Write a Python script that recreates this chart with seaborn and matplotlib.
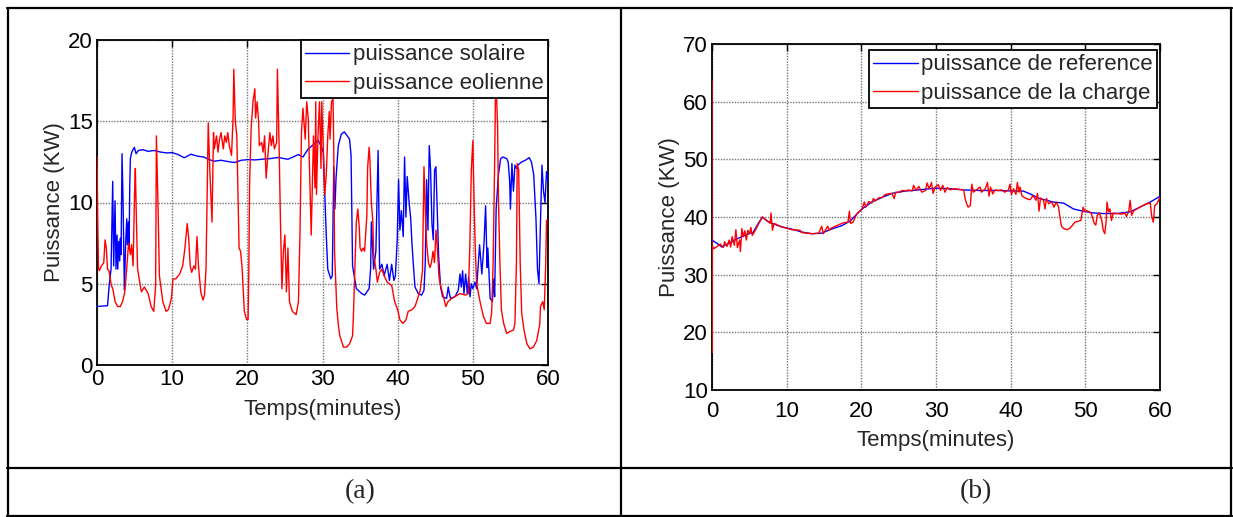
import matplotlib
matplotlib.use("Agg")
import matplotlib.pyplot as plt
from matplotlib.lines import Line2D
import seaborn as sns

# ---- data (a): puissance solaire / eolienne ----
solar_t = [0, 1.4, 1.64, 1.87, 2.09, 2.22, 2.31, 2.4, 2.53, 2.67, 2.76, 2.89, 3.02, 3.11, 3.2,
           3.33, 3.47, 3.64, 3.82, 3.96, 4.04, 4.18, 4.27, 4.36, 4.44, 4.62, 4.97, 5.2, 5.5, 6.1,
           6.8, 7.6, 8.5, 9.3, 10.0, 10.8, 11.6, 12.5, 13.4, 14.2, 14.8, 15.6, 16.5, 17.4, 18.3,
           19.2, 20.1, 21.0, 21.9, 23.0, 24.1, 25.4, 26.8, 27.4, 28.1, 28.8, 29.4, 29.8, 30.1,
           30.3, 30.5, 30.7, 31.1, 31.3, 31.5, 31.65, 31.8, 32.1, 32.5, 32.9, 33.6, 33.8, 34.0,
           34.5, 35.2, 35.6, 36.2, 36.4, 36.5, 36.8, 37.1, 37.4, 37.6, 37.9, 38.2, 38.6, 38.9,
           39.2, 39.5, 39.7, 39.94, 40.12, 40.3, 40.5, 40.74, 40.92, 41.1, 41.27, 41.54, 41.72,
           41.9, 42.07, 42.3, 42.74, 43.18, 43.5, 43.67, 43.85, 44.03, 44.2, 44.38, 44.56, 44.74,
           44.91, 45.09, 45.27, 45.45, 45.71, 45.98, 46.51, 46.73, 46.87, 47.04, 47.62, 48.06,
           48.29, 48.46, 48.64, 48.82, 49.04, 49.26, 49.44, 49.62, 49.8, 50.0, 50.3, 50.5, 50.9,
           51.2, 51.5, 51.7, 51.9, 52.0, 52.3, 52.6, 52.8, 52.9, 53.1, 53.4, 53.7, 54.0, 54.5,
           54.7, 54.9, 55.0, 55.2, 55.4, 55.6, 55.8, 56.0, 56.5, 57.0, 57.5, 57.8, 58.1, 58.4,
           58.6, 58.8, 59.0, 59.2, 59.4, 59.6, 59.8, 60.0]
solar_p = [3.6, 3.65, 5.0, 5.9, 11.3, 6.1, 8.0, 10.1, 5.9, 8.0, 5.9, 7.6, 6.4, 7.8, 6.8,
           13.0, 10.0, 4.6, 7.6, 9.0, 7.4, 8.8, 7.2, 11.1, 12.7, 13.1, 13.4, 13.0, 13.2, 13.25,
           13.15, 13.2, 13.1, 13.05, 13.07, 12.95, 12.75, 12.97, 12.85, 12.8, 12.66, 12.54, 12.6, 12.52, 12.46,
           12.6, 12.64, 12.62, 12.66, 12.7, 12.77, 12.66, 12.95, 12.8, 13.3, 13.56, 13.83, 13.5, 13.1,
           10.6, 8.0, 5.9, 5.3, 5.5, 12.2, 9.6, 11.5, 13.5, 14.2, 14.35, 13.9, 12.9, 6.1,
           4.7, 4.4, 4.3, 4.7, 5.9, 8.8, 5.9, 7.0, 13.2, 5.9, 6.2, 5.5, 6.2, 5.2,
           6.2, 5.2, 5.5, 7.7, 11.4, 8.3, 9.5, 7.9, 12.8, 9.1, 11.6, 9.9, 9.1,
           7.5, 6.3, 4.8, 4.4, 4.3, 4.6, 6.3, 11.4, 8.3, 13.5, 12.0, 8.7, 7.7,
           12.0, 12.2, 9.5, 6.7, 4.8, 4.2, 4.1, 4.8, 4.4, 4.1, 4.2, 4.6,
           5.6, 4.8, 5.8, 4.4, 5.6, 4.4, 5.4, 4.2, 5.0, 4.7, 5.1, 4.7, 7.4,
           5.6, 7.6, 9.8, 6.0, 7.2, 4.1, 3.9, 5.3, 4.2, 9.6, 11.7, 12.7, 12.8, 12.7,
           12.5, 11.3, 9.6, 12.4, 10.7, 12.3, 12.1, 12.3, 12.5, 12.6, 12.76, 12.5, 11.7, 9.0,
           5.9, 5.0, 8.8, 12.3, 10.7, 10.0, 11.9, 11.3]

wind_t = [0, 0.1, 0.2, 0.3, 0.6, 0.9, 1.07, 1.24, 1.4, 1.6, 1.9, 2.1, 2.4, 2.75, 3.1, 3.4, 3.7,
          3.95, 4.2, 4.45, 4.6, 4.8, 5.0, 5.1, 5.25, 5.4, 5.9, 6.3, 6.8, 7.2, 7.55, 7.8, 7.9, 8.1,
          8.3, 8.75, 9.2, 9.5, 9.9, 10.1, 10.5, 11.0, 11.4, 11.7, 12.0, 12.2, 12.4, 12.6, 12.9,
          13.1, 13.3, 13.5, 13.8, 14.1, 14.3, 14.5, 14.8, 15.0, 15.3, 15.5, 15.6, 15.9, 16.1,
          16.3, 16.5, 16.8, 17.0, 17.2, 17.4, 17.6, 17.9, 18.1, 18.2, 18.4, 18.6, 18.8, 18.9,
          19.1, 19.3, 19.6, 19.9, 20.1, 20.2, 20.3, 20.5, 20.75, 21.0, 21.1, 21.3, 21.5, 21.6,
          21.9, 22.1, 22.3, 22.5, 22.8, 23.0, 23.2, 23.4, 23.6, 23.9, 24.0, 24.2, 24.4, 24.6,
          24.8, 25.0, 25.2, 25.4, 25.6, 26.0, 26.5, 26.8, 27.0, 27.2, 27.4, 27.7, 27.9, 28.1,
          28.3, 28.5, 28.8, 29.0, 29.1, 29.2, 29.4, 29.6, 29.8, 29.9, 30.1, 30.3, 30.5, 30.7,
          30.9, 31.0, 31.2, 31.4, 31.5, 31.6, 31.9, 32.1, 32.3, 32.8, 33.2, 33.6, 34.0, 34.1,
          34.3, 34.5, 34.7, 34.9, 35.0, 35.2, 35.4, 35.6, 35.9, 36.0, 36.2, 36.3, 36.5, 36.7,
          36.8, 37.1, 37.3, 37.6, 37.9, 38.2, 38.6, 38.9, 39.2, 39.6, 40.0, 40.3, 40.7, 41.1,
          41.4, 41.9, 42.3, 42.6, 43.0, 43.3, 43.5, 43.7, 43.85, 44.1, 44.3, 44.5, 44.7, 44.9,
          45.1, 45.3, 45.5, 45.7, 46.1, 46.4, 46.7, 47.2, 47.6, 48.3, 49.0, 49.4, 49.6, 49.8,
          50.0, 50.1, 50.3, 50.5, 51.0, 51.4, 51.8, 52.3, 52.5, 52.7, 52.9, 53.0, 53.1, 53.2,
          53.3, 53.4, 53.6, 53.8, 54.1, 54.5, 54.9, 55.4, 55.6, 55.8, 55.9, 56.1, 56.3, 56.5,
          56.8, 57.2, 57.6, 58.05, 58.5, 58.9, 59.0, 59.3, 59.5, 59.7, 59.8, 60.0]
wind_p = [12.8, 8.7, 6.0, 5.8, 6.1, 6.3, 7.7, 7.2, 5.9, 5.8, 4.9, 4.7, 3.9, 3.6, 3.6, 3.9, 4.5,
          5.9, 7.5, 6.8, 7.4, 6.1, 10.6, 12.1, 8.8, 5.9, 4.5, 4.8, 4.4, 3.6, 3.3, 4.9, 14.1, 10.2,
          5.5, 3.9, 3.3, 3.4, 4.1, 5.3, 5.3, 5.6, 6.1, 7.2, 8.7, 7.8, 6.1, 5.7, 6.1,
          5.9, 7.9, 6.1, 4.5, 4.0, 4.3, 5.9, 14.9, 12.1, 8.8, 14.3, 13.3, 14.1, 13.1,
          13.9, 14.3, 13.3, 14.1, 13.7, 14.3, 13.5, 12.9, 15.2, 18.2, 15.0, 14.1, 9.6, 7.2,
          7.0, 6.0, 3.3, 2.8, 2.8, 5.9, 11.1, 14.5, 16.2, 17.0, 15.2, 16.2, 15.0, 13.5,
          13.7, 13.1, 14.1, 11.5, 13.3, 14.3, 13.5, 14.1, 13.3, 13.7, 18.2, 14.1, 9.0, 4.7,
          7.0, 8.0, 4.5, 7.2, 3.9, 3.3, 3.1, 3.9, 8.0, 14.3, 15.8, 13.9, 16.2, 15.2,
          11.7, 8.0, 14.1, 10.9, 16.2, 10.5, 14.1, 16.2, 12.1, 16.2, 13.3, 10.5, 11.7, 14.1,
          15.6, 13.9, 16.2, 16.4, 13.1, 7.0, 3.5, 2.5, 1.8, 1.1, 1.1, 1.3, 1.8, 2.9,
          5.9, 8.8, 9.6, 8.4, 7.2, 7.0, 7.2, 7.0, 9.2, 12.1, 13.4, 12.7, 10.0, 8.8,
          6.8, 5.9, 5.1, 5.7, 5.9, 5.5, 5.1, 5.0, 4.9, 3.9, 3.4, 2.77, 2.56, 2.77,
          3.3, 3.4, 3.6, 4.0, 4.6, 5.8, 12.2, 9.1, 7.5, 6.3, 6.0, 6.3, 7.0, 6.3,
          8.3, 7.0, 5.4, 4.9, 4.2, 3.6, 3.9, 4.1, 4.2, 4.4, 4.3, 4.4, 7.3, 12.0,
          13.8, 11.4, 7.5, 5.0, 3.8, 3.0, 2.56, 2.56, 3.2, 6.3, 12.4, 16.3, 17.0, 16.0,
          14.5, 10.4, 6.3, 3.4, 2.56, 1.95, 2.05, 2.15, 2.56, 6.3, 12.4, 12.0, 6.3, 3.2,
          2.15, 1.3, 1.0, 1.1, 1.5, 2.5, 3.6, 3.9, 3.4, 6.3, 8.9, 8.9]

# ---- data (b): puissance de reference / de la charge ----
ref_t = [0, 0.6, 1.3, 2.2, 3.5, 4.9, 5.5, 6.2, 6.75, 7.3, 8.0, 9.3, 10.7, 12.0, 13.4, 14.7,
         16.0, 17.4, 18.5, 19.4, 20.1, 21.4, 22.8, 24.1, 25.9, 27.7, 29.9, 31.9, 33.7, 35.9,
         38.1, 40.4, 41.7, 42.6, 43.9, 45.7, 47.1, 48.4, 49.7, 51.1, 52.4, 54.2, 56.0, 57.3,
         58.7, 60.0]
ref_p = [36.0, 35.5, 34.8, 35.4, 36.3, 37.1, 37.3, 38.9, 40.0, 39.4, 38.9, 38.3, 37.9, 37.4,
         37.1, 37.2, 37.9, 38.5, 39.3, 40.5, 41.4, 42.6, 43.4, 44.1, 44.5, 44.7, 45.0, 44.9,
         44.7, 44.6, 44.6, 44.5, 44.5, 44.0, 43.2, 42.6, 42.4, 41.4, 41.0, 40.7, 40.6, 40.6,
         40.9, 41.7, 42.6, 43.6]

load_t = [0, 0.02, 0.05, 0.2, 0.6, 1.1, 1.5, 1.7, 2.0, 2.3, 2.5, 2.7, 3.0, 3.2, 3.4, 3.7, 3.8,
          4.0, 4.2, 4.4, 4.6, 4.8, 5.05, 5.2, 5.4, 5.8, 6.2, 6.75, 7.3, 7.8, 7.9, 8.1, 8.3, 9.3,
          10.7, 11.8, 12.0, 13.4, 14.3, 14.7, 14.9, 15.5, 15.7, 16.0, 16.9, 17.6, 18.2, 18.4,
          18.55, 18.9, 19.3, 19.5, 20.1, 20.4, 20.6, 21.0, 21.4, 21.6, 21.9, 22.3, 22.8, 23.2,
          23.6, 24.1, 24.4, 24.6, 25.2, 25.4, 25.9, 26.3, 26.8, 27.0, 27.3, 27.7, 28.1, 28.6,
          28.8, 29.1, 29.4, 29.6, 29.9, 30.3, 30.6, 30.9, 31.2, 31.5, 31.9, 32.3, 33.7, 33.9,
          34.1, 34.3, 34.6, 34.8, 35.0, 35.4, 35.9, 36.1, 36.6, 36.9, 37.1, 37.3, 37.6, 37.9,
          38.3, 38.8, 39.2, 39.7, 39.9, 40.1, 40.4, 40.7, 40.9, 41.1, 41.25, 41.5, 41.8, 42.1,
          42.6, 43.0, 43.4, 43.6, 43.8, 44.0, 44.4, 44.6, 44.8, 45.1, 45.5, 45.8, 46.1, 46.4,
          46.6, 46.8, 47.1, 47.5, 47.9, 48.3, 48.6, 49.1, 49.4, 49.6, 49.7, 50.0, 50.2, 50.5,
          50.8, 51.2, 51.4, 51.6, 51.9, 52.2, 52.4, 52.6, 52.8, 52.9, 53.1, 53.3, 53.5, 53.75,
          54.2, 54.9, 55.3, 55.5, 55.8, 56.0, 56.2, 56.5, 57.3, 58.2, 58.7, 58.9, 59.1, 59.3,
          59.6, 59.8, 60.0]
load_p = [63.6, 16.5, 35.0, 34.5, 34.8, 35.3, 34.7, 35.7, 34.9, 36.0, 34.8, 36.6, 35.1, 37.8,
          34.7, 36.0, 34.0, 38.0, 36.6, 37.6, 36.0, 37.7, 37.1, 38.2, 36.8, 37.7, 38.7, 40.0,
          39.4, 38.9, 40.7, 37.7, 38.9, 38.3, 37.8, 37.7, 37.3, 37.1, 37.2, 38.4, 37.1, 38.4,
          37.7, 38.1, 38.6, 39.0, 39.1, 41.0, 38.9, 39.1, 40.3, 40.7, 41.4, 42.6, 41.7, 42.7,
          42.4, 43.2, 42.8, 43.3, 43.4, 43.9, 44.0, 44.1, 43.2, 44.3, 44.3, 44.6, 44.5, 44.7,
          44.5, 45.5, 44.6, 45.3, 44.3, 44.6, 45.9, 44.9, 46.0, 44.1, 45.2, 45.6, 44.6, 45.5,
          44.3, 45.1, 44.7, 44.9, 44.7, 43.2, 42.3, 41.7, 42.0, 45.7, 44.3, 44.7, 45.2, 44.3,
          44.9, 46.0, 43.6, 45.2, 44.0, 44.7, 44.6, 44.7, 44.3, 44.7, 45.7, 43.9, 44.9, 43.9,
          46.0, 44.3, 45.2, 43.7, 43.4, 43.2, 43.0, 43.7, 42.9, 44.1, 41.0, 43.3, 42.9, 41.4,
          43.2, 42.3, 42.6, 41.7, 42.6, 41.8, 40.0, 38.4, 38.0, 37.8, 38.0, 38.6, 39.1, 39.3,
          39.4, 40.9, 41.7, 40.9, 41.1, 40.9, 40.6, 38.9, 38.6, 40.3, 40.7, 39.4, 37.7, 37.1,
          39.4, 42.6, 40.9, 41.4, 39.4, 40.7, 40.6, 40.5, 40.7, 40.1, 40.9, 42.9, 40.3, 41.1,
          41.7, 42.3, 42.4, 40.0, 39.1, 42.0, 42.3, 42.9, 43.4]

sns.set_style("white")
plt.rcParams['font.family'] = ['Liberation Sans', 'DejaVu Sans']

W, H = 1233, 517
fig = plt.figure(figsize=(W / 100, H / 100), dpi=100)


def frac(x0, y0, x1, y1):
    return [x0 / W, 1 - y1 / H, (x1 - x0) / W, (y1 - y0) / H]


ax1 = fig.add_axes(frac(97, 40, 548, 365))
ax2 = fig.add_axes(frac(712, 44, 1160, 390))

sns.lineplot(x=solar_t, y=solar_p, ax=ax1, color='#0000ff', lw=1.0, sort=False,
             estimator=None, label='puissance solaire', zorder=3)
sns.lineplot(x=wind_t, y=wind_p, ax=ax1, color='#ff0000', lw=1.0, sort=False,
             estimator=None, label='puissance eolienne', zorder=3)
sns.lineplot(x=ref_t, y=ref_p, ax=ax2, color='#0000ff', lw=1.0, sort=False,
             estimator=None, label='puissance de reference', zorder=3)
sns.lineplot(x=load_t, y=load_p, ax=ax2, color='#ff0000', lw=1.0, sort=False,
             estimator=None, label='puissance de la charge', zorder=3)

ax1.set_xlim(0, 60)
ax1.set_ylim(0, 20)
ax1.set_yticks([0, 5, 10, 15, 20])
ax2.set_xlim(0, 60)
ax2.set_ylim(10, 70)
ax2.set_yticks([10, 20, 30, 40, 50, 60, 70])

for ax, xpad, lpad in ((ax1, 3, 6), (ax2, 8, 6)):
    ax.set_xticks(range(0, 61, 10))
    ax.grid(True, color='#777777', lw=1.0, ls=(0, (1, 1)))
    ax.set_axisbelow(True)
    for s in ax.spines.values():
        s.set_color('black')
        s.set_linewidth(1.3)
    ax.tick_params(direction='in', top=True, right=True, length=5, width=1,
                   labelsize=16, pad=3, colors='black')
    ax.tick_params(axis='x', pad=xpad)
    ax.set_xlabel('Temps(minutes)', fontsize=16, labelpad=lpad)
    ax.set_ylabel('Puissance (KW)', fontsize=16, labelpad=2)
    leg = ax.legend(loc='upper right', fontsize=16, frameon=True, fancybox=False,
                    framealpha=1, edgecolor='black', borderpad=0.2, labelspacing=0.32,
                    handlelength=2.0, handletextpad=0.15, borderaxespad=0.0)
    leg.get_frame().set_linewidth(1.3)
    leg.set_zorder(10)

ax2.get_legend().set_bbox_to_anchor((1 - 3 / 448, 1 - 6 / 346))

# table frame around the two panels
def hline(y, x0, x1):
    fig.add_artist(Line2D([x0 / W, x1 / W], [1 - y / H, 1 - y / H], color='black', lw=1.6,
                          transform=fig.transFigure))


def vline(x, y0, y1):
    fig.add_artist(Line2D([x / W, x / W], [1 - y0 / H, 1 - y1 / H], color='black', lw=1.6,
                          transform=fig.transFigure))


hline(8, 7, 1232)
hline(468, 7, 1232)
hline(516, 7, 1232)
vline(7.5, 8, 517)
vline(621, 8, 517)
vline(1231, 8, 517)

fig.text(360 / W, 1 - 492 / H, '(a)', family=['Liberation Serif', 'DejaVu Serif'],
         fontsize=20, ha='center', va='center')
fig.text(976 / W, 1 - 492 / H, '(b)', family=['Liberation Serif', 'DejaVu Serif'],
         fontsize=20, ha='center', va='center')

fig.savefig('out.png', dpi=100, facecolor='white')
